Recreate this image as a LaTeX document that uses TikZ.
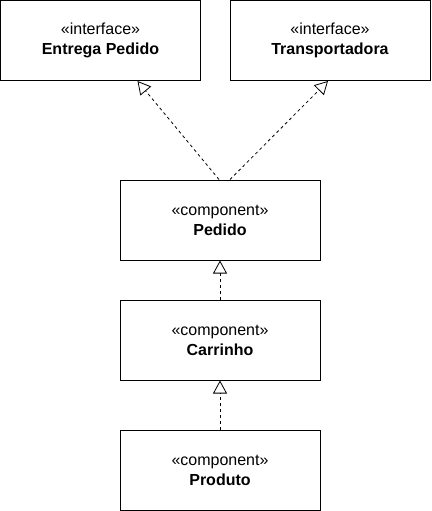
\documentclass[tikz,border=0pt]{standalone}
\usepackage{fontspec}
\setmainfont{Liberation Sans}
\usetikzlibrary{arrows.meta}
\begin{document}
\begin{tikzpicture}[x=1pt,y=-1pt,
  box/.style={draw, line width=1pt, minimum width=200pt, minimum height=80pt, inner sep=0pt, align=center, font=\fontsize{16}{20}\selectfont},
  real/.style={draw, line width=0.8pt, dash pattern=on 3pt off 3pt, -{Triangle[open, length=13pt, width=14pt, line width=0.8pt]}}]
\useasboundingbox (0,0) rectangle (431,511);
\node[box] (ent) at (100.5,40.5) {«interface»\\\textbf{Entrega Pedido}};
\node[box] (tra) at (330,40.5) {«interface»\\\textbf{Transportadora}};
\node[box] (ped) at (220,220) {«component»\\\textbf{Pedido}};
\node[box] (car) at (220,340) {«component»\\\textbf{Carrinho}};
\node[box] (pro) at (220,470) {«component»\\\textbf{Produto}};
\draw[real] ([xshift=-1pt]ped.north) -- ([xshift=37pt]ent.south);
\draw[real] ([xshift=10pt]ped.north) -- ([xshift=-2pt]tra.south);
\draw[real] (car.north) -- (ped.south);
\draw[real] (pro.north) -- (car.south);
\end{tikzpicture}
\end{document}
